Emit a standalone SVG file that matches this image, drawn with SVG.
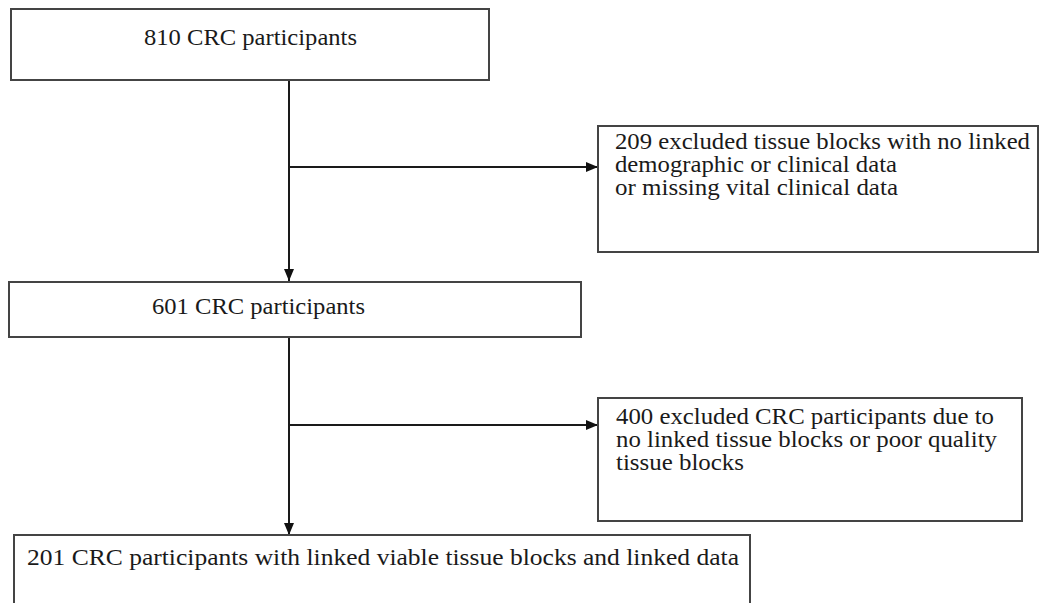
<svg xmlns="http://www.w3.org/2000/svg" width="1039" height="603" viewBox="0 0 1039 603">
<style>
.box{fill:#fff;stroke:#444;stroke-width:2}
.t{font-family:"Liberation Serif","Times New Roman",serif;font-size:22.5px;fill:#1a1a1a}
.c{stroke:#1a1a1a;stroke-width:2;fill:none}
</style>
<defs>
<marker id="ah" viewBox="0 0 12 10" refX="12" refY="5" markerWidth="12" markerHeight="10" markerUnits="userSpaceOnUse" orient="auto">
<path d="M0,0 L12,5 L0,10 z" fill="#111"/>
</marker>
</defs>
<rect width="1039" height="603" fill="#fff"/>
<g id="connectors">
<line class="c" x1="289" y1="80" x2="289" y2="281" marker-end="url(#ah)"/>
<line class="c" x1="289" y1="167" x2="598" y2="167" marker-end="url(#ah)"/>
<line class="c" x1="289" y1="337" x2="289" y2="535" marker-end="url(#ah)"/>
<line class="c" x1="289" y1="425" x2="598" y2="425" marker-end="url(#ah)"/>
</g>
<g id="n810">
<rect class="box" x="11" y="9" width="478" height="71"/>
<text class="t" x="144" y="45" textLength="213" lengthAdjust="spacingAndGlyphs">810 CRC participants</text>
</g>
<g id="nex209">
<rect class="box" x="598" y="126" width="440" height="126"/>
<text class="t" x="615" y="149" textLength="415" lengthAdjust="spacingAndGlyphs">209 excluded tissue blocks with no linked</text>
<text class="t" x="615" y="172" textLength="282" lengthAdjust="spacingAndGlyphs">demographic or clinical data</text>
<text class="t" x="615" y="195" textLength="283" lengthAdjust="spacingAndGlyphs">or missing vital clinical data</text>
</g>
<g id="n601">
<rect class="box" x="9" y="282" width="572" height="55"/>
<text class="t" x="152" y="314" textLength="213" lengthAdjust="spacingAndGlyphs">601 CRC participants</text>
</g>
<g id="nex400">
<rect class="box" x="598" y="398" width="424" height="123"/>
<text class="t" x="616" y="424" textLength="378" lengthAdjust="spacingAndGlyphs">400 excluded CRC participants due to</text>
<text class="t" x="616" y="447" textLength="381" lengthAdjust="spacingAndGlyphs">no linked tissue blocks or poor quality</text>
<text class="t" x="616" y="470" textLength="128" lengthAdjust="spacingAndGlyphs">tissue blocks</text>
</g>
<g id="n201">
<rect class="box" x="14" y="535" width="736" height="80"/>
<text class="t" x="27" y="565" textLength="712" lengthAdjust="spacingAndGlyphs">201 CRC participants with linked viable tissue blocks and linked data</text>
</g>
</svg>
